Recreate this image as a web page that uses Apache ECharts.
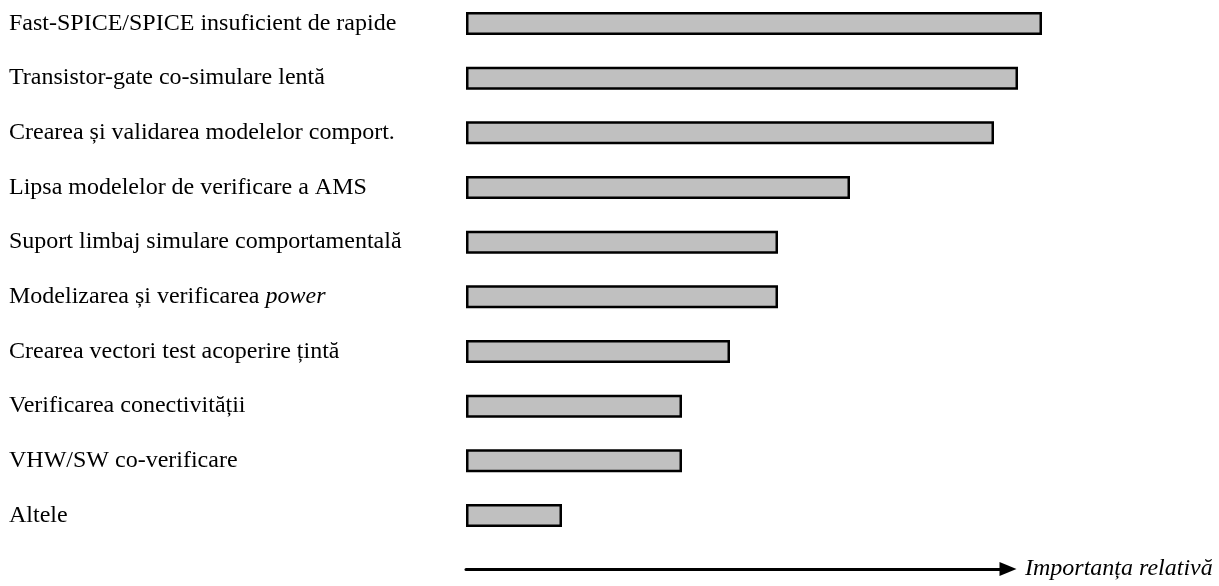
<!DOCTYPE html>
<html>
<head>
<meta charset="utf-8">
<title>Importanța relativă</title>
<script src="https://cdn.jsdelivr.net/npm/echarts@6/dist/echarts.min.js"></script>
<style>
  html, body { margin: 0; padding: 0; background: #ffffff; }
  #chart { width: 1219px; height: 586px; }
</style>
</head>
<body>
<div id="chart"></div>
<script>
// Verification challenges, top to bottom
const categories = [
  'Fast-SPICE/SPICE insuficient de rapide',
  'Transistor-gate co-simulare lentă',
  'Crearea și validarea modelelor comport.',
  'Lipsa modelelor de verificare a AMS',
  'Suport limbaj simulare comportamentală',
  'Modelizarea și verificarea power',
  'Crearea vectori test acoperire țintă',
  'Verificarea conectivității',
  'VHW/SW co-verificare',
  'Altele'
];
// Relative importance (arbitrary units)
const importance = [24, 23, 22, 16, 13, 13, 11, 9, 9, 4];
// Words set in italics inside a label
const italicWords = ['power'];
const axisTitle = 'Importanța relativă';

const FONT = '"Liberation Serif", "Times New Roman", serif';

function formatLabel(text) {
  for (const w of italicWords) {
    const idx = text.lastIndexOf(w);
    if (idx >= 0) {
      return '{n|' + text.slice(0, idx) + '}{i|' + w + '}' + '{n|' + text.slice(idx + w.length) + '}';
    }
  }
  return '{n|' + text + '}';
}

const chart = echarts.init(document.getElementById('chart'), null, { renderer: 'canvas' });

chart.setOption({
  animation: false,
  backgroundColor: '#ffffff',
  grid: [
    { left: 466, top: 23.5, width: 576, height: 492 },
    { left: 466, top: 569, width: 542, height: 0 }
  ],
  xAxis: [
    {
      gridIndex: 0, type: 'value', min: 0, max: 24,
      show: false
    },
    {
      gridIndex: 1, type: 'value', min: 0, max: 1,
      axisLine: {
        show: true,
        lineStyle: { color: '#000000', width: 3 },
        symbol: ['none', 'triangle'],
        symbolSize: [14, 17]
      },
      axisTick: { show: false },
      axisLabel: { show: false },
      splitLine: { show: false },
      name: axisTitle,
      nameLocation: 'end',
      nameGap: 17,
      nameTextStyle: {
        fontFamily: FONT, fontSize: 24, fontStyle: 'italic', color: '#000000'
      }
    }
  ],
  yAxis: [
    {
      gridIndex: 0, type: 'category', data: categories, inverse: true,
      boundaryGap: false,
      axisLine: { show: false },
      axisTick: { show: false },
      splitLine: { show: false },
      axisLabel: {
        align: 'left',
        margin: 457,
        formatter: formatLabel,
        rich: {
          n: { fontFamily: FONT, fontSize: 24, color: '#000000' },
          i: { fontFamily: FONT, fontSize: 24, fontStyle: 'italic', color: '#000000' }
        }
      }
    },
    {
      gridIndex: 1, type: 'value', min: 0, max: 1, show: false
    }
  ],
  series: [
    {
      type: 'bar',
      xAxisIndex: 0, yAxisIndex: 0,
      data: importance,
      barWidth: 23,
      itemStyle: { color: '#c0c0c0', borderColor: '#000000', borderWidth: 2.5 }
    }
  ]
});
</script>
</body>
</html>
